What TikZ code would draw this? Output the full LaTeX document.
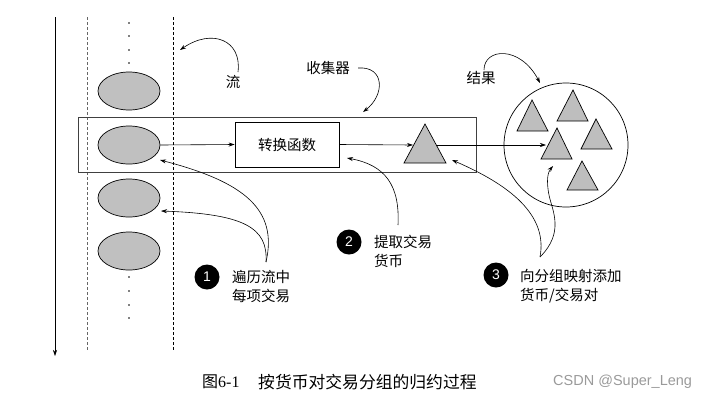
\documentclass[tikz,border=0pt]{standalone}
\usepackage{fontspec}
\setmainfont{Liberation Serif}
\setsansfont{Liberation Sans}
\newfontfamily\cjk{Noto Sans CJK SC}
\usetikzlibrary{arrows.meta,shapes.geometric}
\definecolor{ellgray}{HTML}{C0C0C0}
\definecolor{trigray}{HTML}{BEBEBE}
\definecolor{wmgray}{HTML}{9A9A9A}
\begin{document}
\begin{tikzpicture}[x=1pt,y=-1pt,
  thinline/.style={line width=0.7pt},
  arr/.style={line width=0.6pt,-{Stealth[length=6pt,width=4pt]}},
  ell/.style={ellipse,draw,line width=0.7pt,fill=ellgray,minimum width=62,minimum height=38,inner sep=0},
  tri/.style={draw,line width=0.7pt,fill=trigray,line join=miter},
  lbl/.style={font=\cjk\fontsize{14.5}{19}\selectfont,align=left,inner sep=0},
  num/.style={circle,fill=black,minimum size=25,inner sep=0,text=white,font=\sffamily\fontsize{14}{14}\selectfont},
  dot/.style={circle,fill=black,minimum size=1.6,inner sep=0}]
\useasboundingbox (0,0) rectangle (714,402);
% timeline and stream borders
\coordinate (axtop) at (55,17);
\coordinate (axbot) at (55,356);
\draw[arr] (axtop) -- (axbot);
\coordinate (dl1) at (87,17); \coordinate (dl2) at (87,350);
\coordinate (dr1) at (173,17); \coordinate (dr2) at (173,350);
\draw[line width=0.7pt,black!60,dash pattern=on 3pt off 2pt] (dl1) -- (dl2);
\draw[line width=0.6pt,dash pattern=on 3pt off 2pt] (dr1) -- (dr2);
% dots
\foreach \y [count=\i] in {23,36,50,63,277,291,305,318} \node[dot] (d\i) at (129,\y) {};
% collector box
\node[draw=black!75,line width=0.7pt,minimum width=398,minimum height=55,inner sep=0] (coll) at (277,144.5) {};
% ellipses
\node[ell] (e1) at (129,91) {};
\node[ell] (e2) at (129,145) {};
\node[ell] (e3) at (129,198) {};
\node[ell] (e4) at (129,251) {};
% function box
\node[draw,line width=0.7pt,minimum width=104,minimum height=45,inner sep=0,font=\cjk\fontsize{14.5}{19}\selectfont] (fn) at (287,144.5) {转换函数};
% collector triangle
\draw[tri] (425,124) -- (446,163) -- (404,163) -- cycle;
\coordinate (t0w) at (413,145);
\coordinate (t0e) at (436,145);
% result circle
\node[circle,draw,line width=0.7pt,minimum size=124,inner sep=0] (res) at (566,145) {};
\draw[tri] (532,100) -- (548,131) -- (517,131) -- cycle;
\draw[tri] (573,90) -- (588,121) -- (557,121) -- cycle;
\draw[tri] (557,128) -- (572,159) -- (541,159) -- cycle;
\draw[tri] (596,119) -- (612,149) -- (581,149) -- cycle;
\draw[tri] (582,161) -- (598,190) -- (567,190) -- cycle;
\coordinate (t3w) at (546,145);
\coordinate (t3s) at (553,166);
% main flow
\draw[arr] (e2.east) -- (fn.west);
\draw[arr] (fn.east) -- (t0w);
\draw[arr] (t0e) -- (t3w);
% top labels
\node[lbl] (liu) at (233,82) {流};
\node[lbl] (shou) at (328,68) {收集器};
\node[lbl] (jg) at (481,78) {结果};
\coordinate (liuS) at (238,72);
\coordinate (liuT) at (180,50);
\draw[arr] (liuS) .. controls (242,40) and (212,28) .. (liuT);
\coordinate (shouS) at (358,68);
\coordinate (shouT) at (363,112);
\draw[arr] (shouS) .. controls (385,66) and (385,95) .. (shouT);
\coordinate (jgS) at (484,70);
\coordinate (jgT) at (540,83);
\draw[arr] (jgS) .. controls (484,48) and (520,45) .. (jgT);
% callouts
\node[num] (c1) at (207,277) {1};
\node[num] (c2) at (349,242) {2};
\node[num] (c3) at (496,275) {3};
\node[lbl,anchor=west] (l1) at (232,286.5) {遍历流中\\每项交易};
\node[lbl,anchor=west] (l2) at (374,251) {提取交易\\货币};
\node[lbl,anchor=west] (l3) at (520,286.5) {向分组映射添加\\货币/交易对};
\coordinate (o1) at (266,262);
\coordinate (a1) at (160,160);
\coordinate (b1) at (161,211);
\draw[arr] (o1) .. controls (278,210) and (245,182) .. (a1);
\draw[arr] (o1) .. controls (268,228) and (245,214) .. (b1);
\coordinate (o2) at (398,225);
\coordinate (a2) at (347,158);
\draw[arr] (o2) .. controls (400,185) and (385,165) .. (a2);
\coordinate (o3) at (540,257);
\coordinate (a3) at (452,160);
\coordinate (m3) at (549,195);
\draw[arr] (o3) .. controls (548,215) and (510,185) .. (a3);
\draw[arr] (o3) .. controls (565,232) and (552,210) .. (m3) .. controls (546,180) and (548,172) .. (t3s);
% caption
\node[anchor=west,inner sep=0,font=\cjk\fontsize{16}{16}\selectfont] (cap1) at (202,382) {图{\rmfamily 6-1}};
\node[anchor=west,inner sep=0,font=\cjk\fontsize{16.8}{16.8}\selectfont] (cap2) at (258,382) {按货币对交易分组的归约过程};
\node[anchor=west,inner sep=0,text=wmgray,font=\sffamily\fontsize{14.5}{14.5}\selectfont] (wm) at (553,382) {CSDN @Super\_Leng};
\end{tikzpicture}
\end{document}
